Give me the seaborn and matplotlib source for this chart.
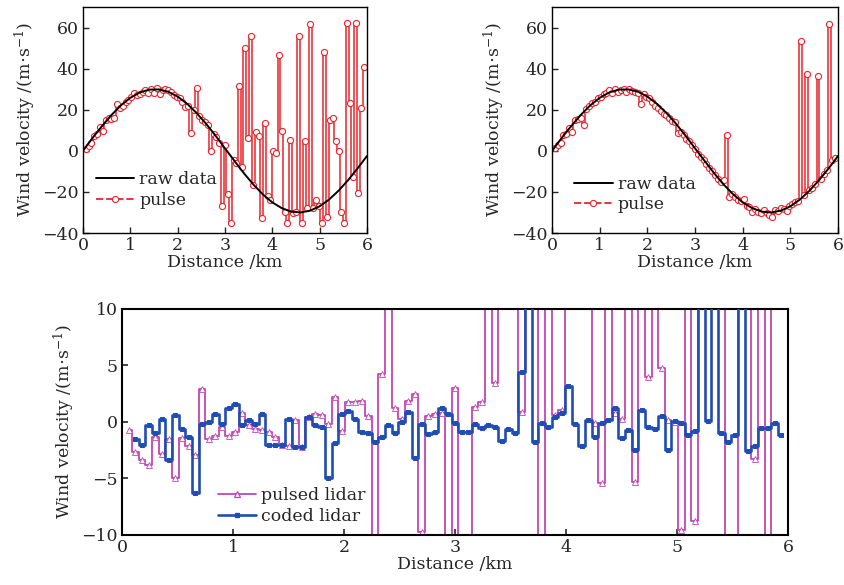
import numpy as np
import pandas as pd
import matplotlib
matplotlib.use("Agg")
import matplotlib.pyplot as plt
from matplotlib.lines import Line2D
import seaborn as sns

# ---------------- data ----------------
RAW_X = [0.0, 0.2, 0.4, 0.6, 0.8, 1.0, 1.2, 1.4, 1.6, 1.8, 2.0, 2.2, 2.4, 2.6, 2.8,
         3.0, 3.2, 3.4, 3.6, 3.8, 4.0, 4.2, 4.4, 4.6, 4.8, 5.0, 5.2, 5.4, 5.6, 5.8, 6.0]
RAW_V = [0.0, 6.2, 12.0, 17.4, 22.1, 25.8, 28.4, 29.8, 29.9, 28.8, 26.4, 22.9, 18.4, 13.2, 7.4,
         1.2, -4.9, -10.9, -16.4, -21.2, -25.1, -27.9, -29.6, -30.0, -29.1, -27.0, -23.7, -19.4,
         -14.3, -8.6, -2.5]

# range bins (km) of the pulse retrievals
BIN_DIST = np.round(0.06 * np.arange(1, 100), 2)

PULSE_A = [1.0, 2.5, 4.0, 7.0, 8.0, 11.5, 9.5, 15.0, 16.0, 15.5,
           16.0, 23.0, 21.0, 22.0, 24.0, 24.5, 26.0, 28.0, 27.0, 27.5,
           28.5, 29.5, 28.0, 30.0, 28.0, 30.5, 27.5, 29.5, 30.0, 29.5,
           28.5, 27.0, 26.0, 25.5, 24.0, 21.5, 22.0, 8.6, 20.0, 30.6,
           17.0, 15.0, 14.0, 12.5, -0.3, 8.0, 6.5, 4.0, -27.0, 3.0,
           -21.0, -35.0, -4.4, -6.0, 31.4, -8.0, 50.0, 6.2, 55.8, -16.6,
           9.4, 7.0, -32.8, 13.5, -22.0, -24.0, 0.0, -1.0, 46.8, 9.8,
           -29.6, -35.0, 5.4, -30.4, -30.0, 55.8, -35.0, 4.6, -28.0, 61.8,
           -28.0, -24.0, -27.0, -35.0, 48.0, -32.0, 15.1, 16.0, 4.6, -0.3,
           -29.6, -35.0, 62.0, 23.3, -12.5, 62.0, -20.6, 20.8, 41.0]

PULSE_B = [1.5, 3.0, 4.0, 7.5, 8.0, 11.0, 9.0, 15.0, 15.5, 16.0,
           12.8, 20.5, 22.0, 23.5, 24.0, 25.5, 26.0, 27.5, 28.0, 29.5,
           28.0, 30.0, 28.5, 29.5, 30.0, 28.5, 30.0, 29.0, 28.5, 28.0,
           23.0, 27.5, 26.0, 25.5, 24.0, 22.0, 21.0, 19.5, 18.0, 17.5,
           16.0, 14.5, 14.0, 8.5, 9.0, 7.5, 6.0, 5.0, 3.0, 1.0,
           -1.5, -3.0, -4.5, -6.5, -8.5, -10.0, -12.0, -13.5, -15.0, -14.2,
           7.7, -22.5, -21.0, -22.5, -24.0, -24.5, -23.5, -27.0, -27.5, -30.0,
           -28.5, -30.0, -30.5, -29.0, -30.5, -31.0, -32.0, -29.0, -29.5, -28.0,
           -28.5, -29.5, -27.0, -26.0, -25.0, -24.5, 53.4, -21.5, 37.6, -19.0,
           -18.0, -16.0, 36.3, -13.5, -11.5, -9.5, 61.8, -4.5, -3.5]

PULSED_LIDAR = [-0.7, -2.7, -3.4, -3.8, -1.3, -2.8, -1.5, -5.0, -1.4, -2.1,
                -2.9, 2.9, -1.5, -1.25, -0.4, -1.25, -0.9, 0.8, -0.3, -0.6,
                -0.7, -0.9, -1.3, -2.0, -2.1, 0.2, -2.2, 0.45, 0.7, 0.6,
                -0.15, 2.2, -0.8, 1.8, 1.8, 1.9, 0.5, -15.0, 4.25, 15.0,
                1.2, 0.3, 1.9, 2.5, -9.7, 0.5, 0.7, 0.8, -15.0, 3.0,
                -15.0, -15.0, 1.35, 1.8, 15.0, 3.45, 15.0, 15.0, 15.0, 0.9,
                15.0, 15.0, -15.0, 15.0, 0.6, 1.05, 15.0, 15.0, 15.0, 15.0,
                -0.05, -5.4, 15.0, 0.8, 0.3, 15.0, -5.3, 15.0, 4.0, 15.0,
                4.75, 0.2, 0.0, -9.6, 15.0, -8.8, 15.0, 15.0, 15.0, 15.0,
                -15.0, -15.0, 15.0, 15.0, -3.3, 15.0, -15.0, 15.0]

CODED_LIDAR = [-1.5, -2.0, -0.3, -1.0, 0.3, -3.4, 0.65, -0.6, -1.3, -6.3,
               -0.15, 0.0, 0.7, -0.15, 1.2, 1.6, -0.3, 0.15, -0.15, 0.7,
               -2.0, -2.0, -2.0, 0.3, -2.2, -2.2, 0.45, -0.3, -0.45, -5.0,
               -1.9, 0.7, 1.0, 0.3, -0.9, -1.0, -1.75, -1.3, -0.3, -1.0,
               0.0, 0.9, -3.2, -0.15, -1.1, -0.9, 1.2, 0.7, -0.1, -0.9,
               -0.9, -0.15, -0.55, -0.25, -0.4, -1.7, -0.65, -1.0, 4.4, 15.0,
               -1.8, -0.05, -0.4, 0.45, 0.8, 3.2, -0.15, -2.1, 0.15, -1.3,
               -0.1, 0.2, 1.2, -1.45, -0.75, -2.5, 1.1, -0.45, -0.65, 0.55,
               -2.5, 0.05, -0.1, -1.15, -0.8, 15.0, 0.05, 15.0, -0.95, -1.75,
               -1.15, 15.0, -2.6, -2.1, -0.55, -0.55, -0.05, -1.15]

TOP_YTICKS = [-40, -20, 0, 20, 40, 60]
BOT_YTICKS = [-10, -5, 0, 5, 10]
XTICKS = [0, 1, 2, 3, 4, 5, 6]

RED = "#e8242b"
PINK = "#c147b3"
BLUE = "#1f4db3"

# ---------------- style ----------------
sns.set_style("ticks")
plt.rcParams["font.family"] = ["DejaVu Serif"]
plt.rcParams["mathtext.fontset"] = "dejavuserif"
plt.rcParams["axes.unicode_minus"] = True

YLABEL = r"Wind velocity /(m$\cdot$s$^{-1}$)"
FS_TICK = 12.5
FS_LAB = 12.5

fig = plt.figure(figsize=(8.45, 5.85), dpi=100)
ax1 = fig.add_axes([0.0982, 0.6017, 0.3361, 0.3863])
ax2 = fig.add_axes([0.6533, 0.6017, 0.3385, 0.3863])
ax3 = fig.add_axes([0.1444, 0.0855, 0.7882, 0.3863])

raw_df = pd.DataFrame({"dist": RAW_X, "v": RAW_V})


def top_panel(ax, pulse, leg_anchor):
    df = pd.DataFrame({"dist": BIN_DIST, "v": pulse})
    sns.lineplot(data=df, x="dist", y="v", ax=ax, color=RED, lw=1.1,
                 drawstyle="steps-mid", marker="o", markersize=4.4,
                 markerfacecolor="white", markeredgecolor=RED,
                 markeredgewidth=0.8, errorbar=None, zorder=2)
    sns.lineplot(data=raw_df, x="dist", y="v", ax=ax, color="black", lw=1.4,
                 errorbar=None, zorder=3)
    ax.set_xlim(0, 6)
    ax.set_ylim(-40, 70)
    ax.set_xticks(XTICKS)
    ax.set_yticks(TOP_YTICKS)
    ax.set_xlabel("Distance /km", fontsize=FS_LAB, labelpad=0)
    ax.set_ylabel(YLABEL, fontsize=FS_LAB, labelpad=3)
    ax.tick_params(direction="in", length=4, width=1, labelsize=FS_TICK, pad=3)
    for s in ax.spines.values():
        s.set_visible(True)
        s.set_linewidth(1.0)
        s.set_color("black")
    handles = [Line2D([], [], color="black", lw=1.4),
               Line2D([], [], color=RED, lw=1.3, ls=(0, (4, 1.6)), marker="o",
                      markersize=4.4, markerfacecolor="white",
                      markeredgecolor=RED, markeredgewidth=0.8)]
    ax.legend(handles, ["raw data", "pulse"], loc="center left",
              bbox_to_anchor=leg_anchor, frameon=False, fontsize=FS_LAB,
              handlelength=2.2, handletextpad=0.3, labelspacing=0.2,
              borderpad=0, borderaxespad=0)


top_panel(ax1, PULSE_A, (0.045, 0.19))
top_panel(ax2, PULSE_B, (0.078, 0.17))

# bottom panel
pdf = pd.DataFrame({"dist": BIN_DIST[:98], "v": PULSED_LIDAR})
cdf = pd.DataFrame({"dist": BIN_DIST[1:], "v": CODED_LIDAR})
sns.lineplot(data=pdf, x="dist", y="v", ax=ax3, color=PINK, lw=1.3,
             drawstyle="steps-mid", marker="^", markersize=3.8,
             markerfacecolor="white", markeredgecolor=PINK,
             markeredgewidth=0.6, errorbar=None, zorder=2)
sns.lineplot(data=cdf, x="dist", y="v", ax=ax3, color=BLUE, lw=1.9,
             drawstyle="steps-mid", marker="s", markersize=2.2,
             markerfacecolor=BLUE, markeredgecolor=BLUE,
             errorbar=None, zorder=3)
ax3.set_xlim(0, 6)
ax3.set_ylim(-10, 10)
ax3.set_xticks(XTICKS)
ax3.set_yticks(BOT_YTICKS)
ax3.set_xlabel("Distance /km", fontsize=FS_LAB, labelpad=0)
ax3.set_ylabel(YLABEL, fontsize=FS_LAB, labelpad=3)
ax3.tick_params(direction="in", length=4, width=1.2, labelsize=FS_TICK, pad=3)
for s in ax3.spines.values():
    s.set_visible(True)
    s.set_linewidth(1.5)
    s.set_color("black")
h3 = [Line2D([], [], color=PINK, lw=1.3, marker="^", markersize=5,
             markerfacecolor="white", markeredgecolor=PINK, markeredgewidth=0.9),
      Line2D([], [], color=BLUE, lw=1.9, marker="s", markersize=3.5,
             markerfacecolor=BLUE, markeredgecolor=BLUE)]
ax3.legend(h3, ["pulsed lidar", "coded lidar"], loc="center left",
           bbox_to_anchor=(0.144, 0.128), frameon=False, fontsize=FS_LAB,
           handlelength=2.2, handletextpad=0.3, labelspacing=0.2,
           borderpad=0, borderaxespad=0)

fig.savefig("out.png", dpi=100)
